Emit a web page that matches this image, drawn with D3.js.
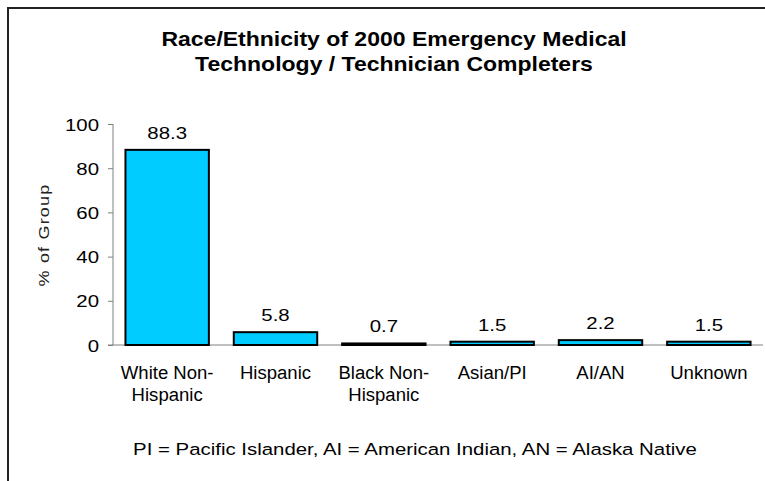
<!DOCTYPE html>
<html><head><meta charset="utf-8">
<script src="https://cdn.jsdelivr.net/npm/d3@7"></script>
<style>body{margin:0;background:#fff}svg{display:block}text{font-family:"Liberation Sans",Arial,sans-serif}</style>
</head><body>
<svg id="c" width="765" height="481"></svg>
<script>
const categories = [["White Non-","Hispanic"],["Hispanic"],["Black Non-","Hispanic"],["Asian/PI"],["AI/AN"],["Unknown"]];
const values = [88.3, 5.8, 0.7, 1.5, 2.2, 1.5];
const yTicks = [0, 20, 40, 60, 80, 100];
const titleLines = ["Race/Ethnicity of 2000 Emergency Medical", "Technology / Technician Completers"];
const footnote = "PI = Pacific Islander, AI = American Indian, AN = Alaska Native";
const yLabel = "% of Group";

const SX = 1.2;
const svg = d3.select("#c");
svg.append("path").attr("d","M8,481V8H765").attr("fill","none").attr("stroke","#222").attr("stroke-width",2);

const m = {left:113, right:763, top:124, bottom:345};
const idx = categories.map((d,i)=>i);
const x = d3.scaleBand().domain(idx).range([m.left, m.right]).paddingInner(0.23).paddingOuter(0.115);
const y = d3.scaleLinear().domain([0,100]).range([m.bottom, m.top]);

function place(sel, fx, fy, sx){
  sel.attr("transform",(d,i)=>`translate(${fx(d,i)},${fy(d,i)}) scale(${sx},1)`);
}

const t = svg.selectAll("text.title").data(titleLines).join("text").attr("class","title")
  .attr("text-anchor","middle").attr("font-size",20).attr("font-weight","bold").attr("fill","#000").text(d=>d);
place(t, ()=>394, (d,i)=>46+i*25, 1.15);

// y axis
const yAxis = svg.append("g").attr("transform",`translate(${m.left},0)`)
  .call(d3.axisLeft(y).tickValues(yTicks).tickSize(5));
yAxis.select(".domain").attr("stroke","#808080").attr("d",`M0,${m.bottom}V${m.top}`);
yAxis.selectAll(".tick line").attr("stroke","#808080");
yAxis.selectAll(".tick text").attr("font-size",17).attr("fill","#000")
  .attr("font-family","Liberation Sans, Arial, sans-serif")
  .attr("x",0).attr("dy","0.36em")
  .attr("transform",`translate(-14,0) scale(${SX},1)`);

svg.append("line").attr("x1",m.left-5).attr("x2",m.right).attr("y1",m.bottom).attr("y2",m.bottom).attr("stroke","#808080");

svg.selectAll("rect.bar").data(values).join("rect").attr("class","bar")
  .attr("x",(d,i)=>x(i)).attr("width",x.bandwidth())
  .attr("y",d=>y(d)).attr("height",d=>y(0)-y(d))
  .attr("fill","#00CCFF").attr("stroke","#000").attr("stroke-width",2);

const v = svg.selectAll("text.val").data(values).join("text").attr("class","val")
  .attr("text-anchor","middle").attr("font-size",17).attr("fill","#000").text(d=>d.toFixed(1));
place(v, (d,i)=>x(i)+x.bandwidth()/2, d=>y(d)-11, SX);

const cat = svg.selectAll("text.cat").data(categories).join("text").attr("class","cat")
  .attr("text-anchor","middle").attr("font-size",18).attr("fill","#000");
place(cat, (d,i)=>x(i)+x.bandwidth()/2, ()=>379, 1.03);
cat.each(function(lines){
  d3.select(this).selectAll("tspan").data(lines).join("tspan")
    .attr("x",0).attr("y",(d,j)=>j*22).text(d=>d);
});

svg.append("text").attr("transform","translate(49,235) rotate(-90) scale(1.2,1)")
  .attr("text-anchor","middle").attr("font-size",15).attr("letter-spacing",1).attr("fill","#222").text(yLabel);

const f = svg.append("text").datum(footnote).attr("text-anchor","middle")
  .attr("font-size",17).attr("fill","#000").text(d=>d);
place(f, ()=>415, ()=>455, SX);
</script>
</body></html>
